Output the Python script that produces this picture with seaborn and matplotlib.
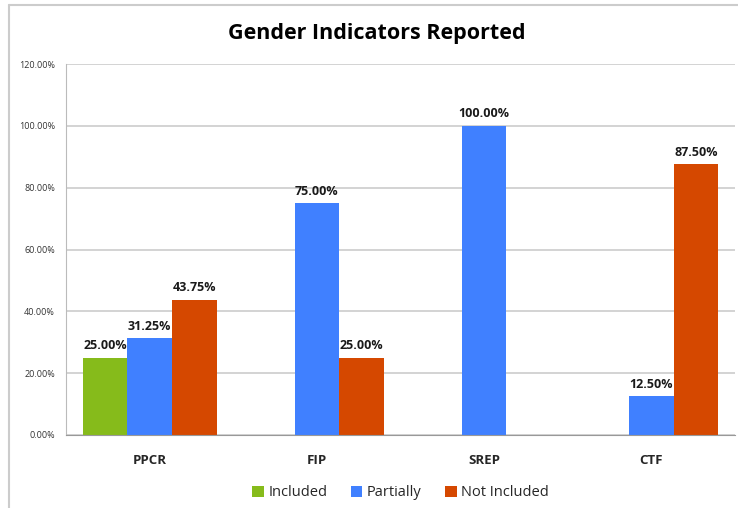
import seaborn as sns
import pandas as pd
import matplotlib.pyplot as plt
from matplotlib.lines import Line2D

###################
# Data
programs = ["PPCR", "FIP", "SREP", "CTF"]
series = ["Included", "Partially", "Not Included"]
included = [25.00, 0.0, 0.0, 0.0]
partially = [31.25, 75.00, 100.00, 12.50]
not_included = [43.75, 25.00, 0.0, 87.50]
y_ticks = [0, 20, 40, 60, 80, 100, 120]

data = pd.DataFrame({
    "Program": programs * 3,
    "Status": [s for s in series for _ in programs],
    "Value": included + partially + not_included,
})

###################
# Setup
sns.set_style("white")
plt.rcParams["font.family"] = ["Open Sans", "DejaVu Sans"]
colors = ["#86BB1B", "#4080FF", "#D54800"]

fig = plt.figure(figsize=(7.38, 5.08), dpi=100)
ax = fig.add_axes([66 / 738, 73 / 508, 669 / 738, 371 / 508])

sns.barplot(data, x="Program", y="Value", hue="Status", hue_order=series,
            palette=colors, ax=ax, width=0.8, saturation=1, legend=True,
            linewidth=0, edgecolor="none")

ax.set_ylim(0, 120)
ax.set_yticks(y_ticks)
ax.set_yticklabels([f"{t:.2f}%" for t in y_ticks], fontsize=6.5, color="#333333")
ax.tick_params(axis="y", length=0, pad=8)
ax.tick_params(axis="x", length=0, pad=14)
for lbl in ax.get_xticklabels():
    lbl.set_fontweight("bold")
    lbl.set_fontsize(9.5)
ax.grid(axis="y", color="#cccccc", linewidth=1.2)
ax.set_axisbelow(True)
ax.set_xlabel("")
ax.set_ylabel("")
for side in ["top", "right"]:
    ax.spines[side].set_visible(False)
ax.spines["left"].set_color("#bbbbbb")
ax.spines["bottom"].set_color("#999999")

# value labels for non-zero bars
for container in ax.containers:
    labels = [f"{b.get_height():.2f}%" if b.get_height() > 0 else "" for b in container]
    ax.bar_label(container, labels=labels, padding=4, fontsize=9, fontweight="bold",
                 color="#1a1a1a")

ax.legend(loc="upper center", bbox_to_anchor=(0.5, -0.1), ncol=3, frameon=False,
          fontsize=10.5, handlelength=0.8, handleheight=0.8, handletextpad=0.3,
          columnspacing=1.6)

fig.suptitle("Gender Indicators Reported", fontsize=15.5, fontweight="bold", y=0.955,
             x=0.51, color="black")

# outer frame (left and top)
fig.add_artist(Line2D([9 / 738, 9 / 738], [0, 1 - 5 / 508], color="#cccccc", linewidth=1.5))
fig.add_artist(Line2D([9 / 738, 1], [1 - 5 / 508, 1 - 5 / 508], color="#cccccc", linewidth=1.5))

###################
# Export
fig.savefig("out.png", dpi=100)
